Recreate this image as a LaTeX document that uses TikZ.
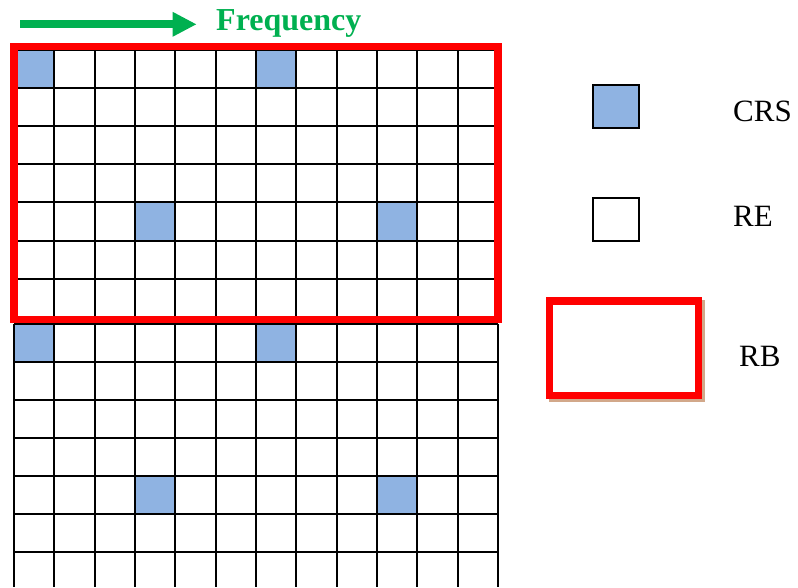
\documentclass[tikz,border=0pt]{standalone}
\usepackage{fontspec}
\setmainfont{Liberation Serif}
\usetikzlibrary{arrows.meta}
\definecolor{crsblue}{RGB}{143,179,226}
\definecolor{freqgreen}{RGB}{0,176,80}
\definecolor{rbred}{RGB}{255,0,0}
\definecolor{shadowtan}{RGB}{210,168,138}

\begin{document}
\begin{tikzpicture}
[x=1pt, y=-1pt, font=\fontsize{31}{36}\selectfont]
\tikzstyle{gridline}=[line width=2pt]
\tikzstyle{crs}=[fill=crsblue]
\tikzstyle{key}=[draw, line width=2pt, inner sep=0mm, minimum width=46pt, minimum height=43pt]
\tikzstyle{rbbox}=[draw=rbred, line width=7.5pt, inner sep=0mm, minimum width=149pt, minimum height=94.5pt]
\tikzstyle{legend}=[anchor=base west, inner sep=0mm]
\useasboundingbox (0,0) rectangle (798,587);

% upper block, 12 x 7 cells
\foreach \r/\c in {0/0,0/6,4/3,4/9}
  \fill[crs] (14+40.33*\c,49.5+38.2*\r) rectangle ++(40.33,38.2);
\foreach \c in {0,...,12}
  \draw[gridline] (14+40.33*\c,49.5) -- (14+40.33*\c,316.9);
\foreach \r in {0,...,7}
  \draw[gridline] (14,49.5+38.2*\r) -- (498,49.5+38.2*\r);

% lower block, runs off the bottom
\foreach \r/\c in {0/0,0/6,4/3,4/9}
  \fill[crs] (14+40.33*\c,323.7+38*\r) rectangle ++(40.33,38);
\foreach \c in {0,...,12}
  \draw[gridline] (14+40.33*\c,323.7) -- (14+40.33*\c,587);
\foreach \r in {0,...,6}
  \draw[gridline] (14,323.7+38*\r) -- (498,323.7+38*\r);

\node[rbbox, minimum width=484pt, minimum height=273pt] (RB) at (256,183.2) {};

% frequency axis
\coordinate (fstart) at (20,24.3);
\coordinate (fend)   at (196.7,24.3);
\draw[freqgreen, line width=8pt, -{Triangle[length=24pt,width=23pt]}] (fstart) -- (fend);
\node[legend, text=freqgreen, font=\fontsize{32}{37}\selectfont\bfseries] (freq) at (216,30.7) {Frequency};

% legend
\node[key, fill=crsblue] (CRSkey) at (615.7,106.7) {};
\node[key, fill=white]   (REkey)  at (615.7,219.4) {};
\node[rbbox, draw=shadowtan] (RBshadow) at (627.1,351.2) {};
\node[rbbox, fill=white] (RBkey) at (624.1,348.2) {};

\node[legend] (CRSlabel) at (733,121.7) {CRS};
\node[legend] (RElabel)  at (733,226.7) {RE};
\node[legend] (RBlabel)  at (739,366.7) {RB};
\end{tikzpicture}
\end{document}
